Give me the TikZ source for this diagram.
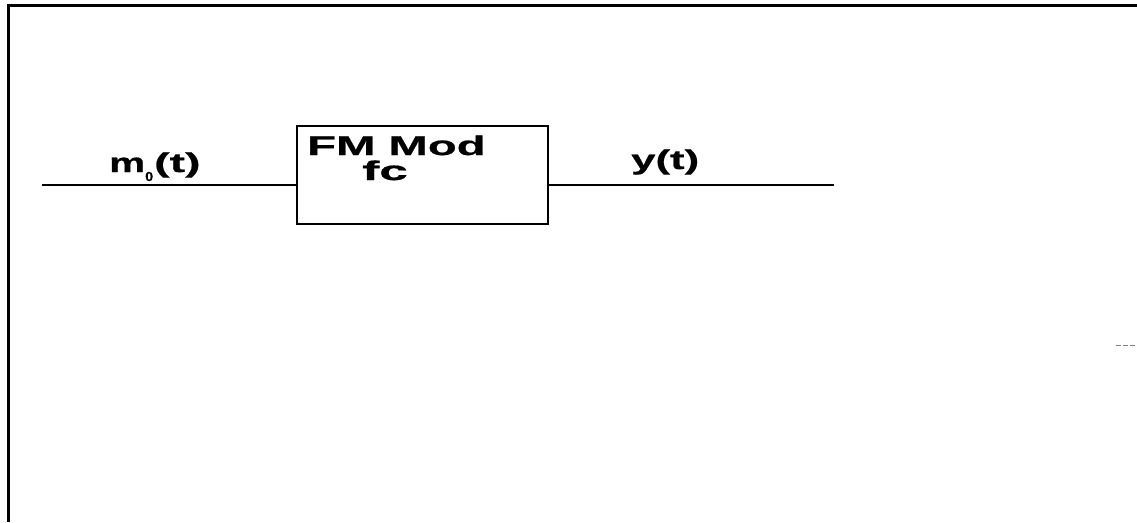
\documentclass[tikz,border=0pt]{standalone}
\usepackage{fontspec}
\setmainfont{Liberation Sans}[BoldFeatures={FakeBold=0.6}]
\begin{document}
\begin{tikzpicture}[x=1pt,y=-1pt,
  lbl/.style={inner sep=0pt, anchor=base west, font=\bfseries\fontsize{27}{27}\selectfont},
  wire/.style={line width=1.8pt},
  blk/.style={draw, line width=1.8pt, minimum width=251pt, minimum height=98pt, inner sep=0pt, anchor=north west}]
\useasboundingbox (0,0) rectangle (1137,522);
% frame
\draw[line width=3pt] (8,522) -- (8,5) -- (1137,5);
\draw[gray, line width=0.6pt, dash pattern=on 5pt off 2pt] (1116,345) -- (1137,345);
% block
\node[blk] (mod) at (296,125) {};
\coordinate (in) at (42,185);
\coordinate (out) at (834,185);
\draw[wire] (in) -- (in -| mod.west);
\draw[wire] (out -| mod.east) -- (out);
% labels
\node[lbl] (mlbl) at (109,172) {\scalebox{1.5}[1]{m}\raisebox{-9pt}{\scalebox{1.1}[1]{\fontsize{13}{13}\selectfont 0}}\hspace{1pt}\scalebox{1.72}[1]{(t)}};
\node[lbl] (modl) at (307,155) {\scalebox{1.75}[1]{FM Mod}};
\node[lbl] (fcl) at (362,180) {\scalebox{1.9}[1]{fc}};
\node[lbl] (ylbl) at (631,169) {\scalebox{1.62}[1]{y(t)}};
\end{tikzpicture}
\end{document}
